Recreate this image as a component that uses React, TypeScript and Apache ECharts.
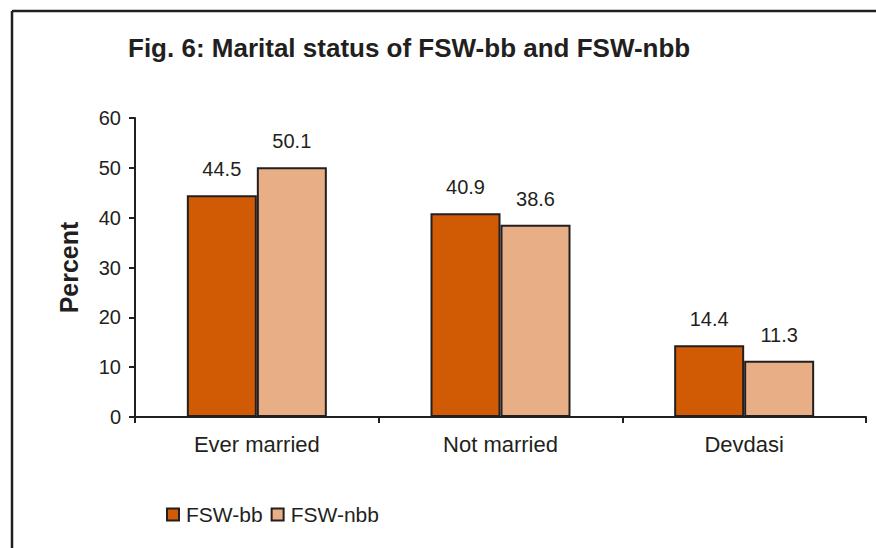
import React, { useEffect, useRef } from "react";
import * as echarts from "echarts";

const categories = ["Ever married", "Not married", "Devdasi"];
const fswBB = [44.5, 40.9, 14.4];
const fswNBB = [50.1, 38.6, 11.3];
const seriesNames = ["FSW-bb", "FSW-nbb"];
const titleText = "Fig. 6: Marital status of FSW-bb and FSW-nbb";
const yAxisName = "Percent";

const INK = "#231F20";
const FONT = "'Liberation Sans', Arial, Helvetica, sans-serif";

export default function App() {
  const ref = useRef<HTMLDivElement>(null);
  useEffect(() => {
    if (!ref.current) return;
    const chart = echarts.init(ref.current, undefined, { renderer: "svg" });
    const labelCfg = {
      show: true,
      position: "top",
      distance: 16,
      fontSize: 20,
      color: INK,
      fontFamily: FONT,
      formatter: (p: any) => Number(p.value).toFixed(1),
    };
    chart.setOption({
      animation: false,
      backgroundColor: "#fff",
      textStyle: { fontFamily: FONT, color: INK },
      title: {
        text: titleText,
        left: 123,
        top: 30,
        textStyle: { fontSize: 26, fontWeight: "bold", color: INK, fontFamily: FONT },
      },
      legend: {
        left: 161,
        top: 499,
        itemWidth: 12,
        itemHeight: 12,
        itemGap: 8,
        icon: "rect",
        textStyle: { fontSize: 21, color: INK, fontFamily: FONT, padding: [0, 0, 0, 2] },
        data: seriesNames,
      },
      grid: { left: 135, right: 10, top: 118, bottom: 131, containLabel: false },
      xAxis: {
        type: "category",
        data: categories,
        axisLine: { show: true, lineStyle: { color: INK, width: 2 } },
        axisTick: { show: true, length: 6, lineStyle: { color: INK, width: 2 } },
        axisLabel: { fontSize: 22, color: INK, margin: 16, fontFamily: FONT },
        splitLine: { show: false },
      },
      yAxis: {
        type: "value",
        min: 0,
        max: 60,
        interval: 10,
        name: yAxisName,
        nameLocation: "middle",
        nameGap: 54,
        nameRotate: 90,
        nameTextStyle: { fontSize: 25, fontWeight: "bold", color: INK, fontFamily: FONT },
        axisLine: { show: true, lineStyle: { color: INK, width: 2 } },
        axisTick: { show: true, length: 6, lineStyle: { color: INK, width: 2 } },
        axisLabel: { fontSize: 20, color: INK, margin: 14, fontFamily: FONT },
        splitLine: { show: false },
      },
      series: [
        {
          name: seriesNames[0],
          type: "bar",
          data: fswBB,
          barWidth: 70,
          barGap: "0%",
          itemStyle: { color: "#D15A05", borderColor: INK, borderWidth: 2 },
          label: labelCfg,
        },
        {
          name: seriesNames[1],
          type: "bar",
          data: fswNBB,
          barWidth: 70,
          itemStyle: { color: "#E8AE86", borderColor: INK, borderWidth: 2 },
          label: labelCfg,
        },
      ],
      graphic: [
        { type: "line", shape: { x1: 12, y1: 11, x2: 12, y2: 548 }, style: { stroke: INK, lineWidth: 2.5 } },
        { type: "line", shape: { x1: 12, y1: 11, x2: 876, y2: 11 }, style: { stroke: INK, lineWidth: 2.5 } },
      ],
    });
    return () => chart.dispose();
  }, []);
  return (
    <div
      ref={ref}
      style={{ position: "fixed", left: 0, top: 0, width: 876, height: 548 }}
    />
  );
}
